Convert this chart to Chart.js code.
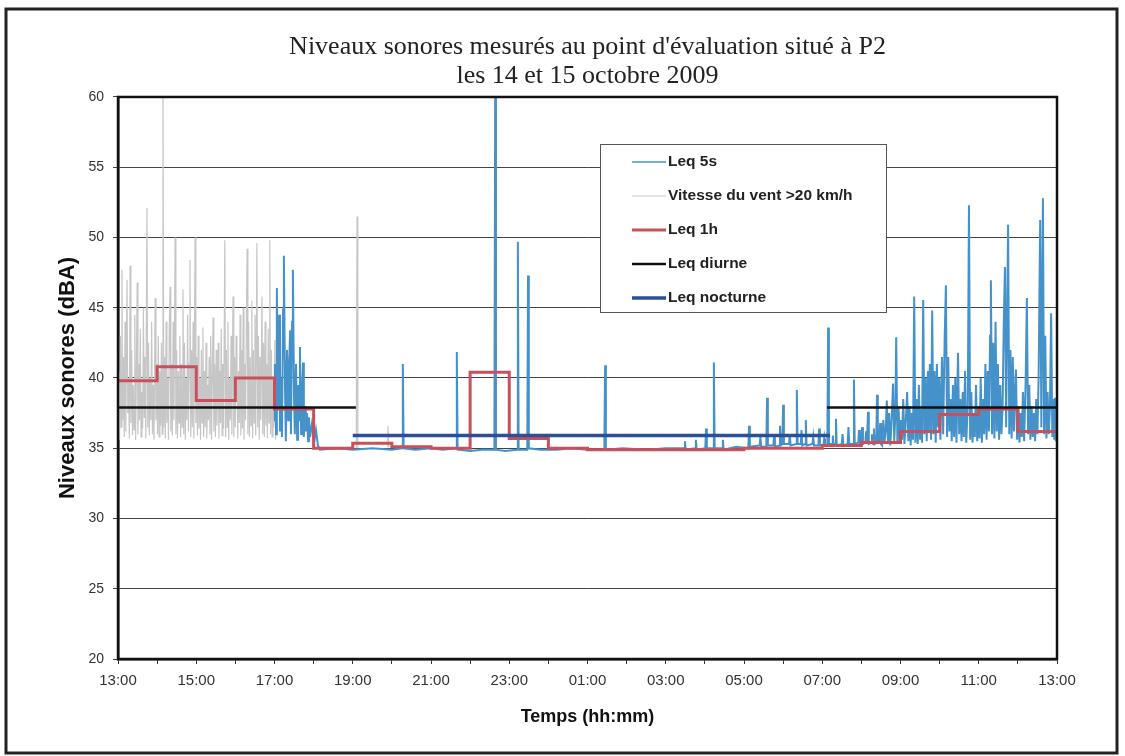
<!DOCTYPE html>
<html lang="fr">
<head>
<meta charset="utf-8">
<title>Niveaux sonores P2</title>
<script src="https://cdn.jsdelivr.net/npm/chart.js@4.4.1/dist/chart.umd.min.js"></script>
<style>
  html, body { margin: 0; padding: 0; background: #fff; }
  #wrap { width: 1125px; height: 756px; }
</style>
</head>
<body>
<div id="wrap"><canvas id="noiseChart" width="1125" height="756"></canvas></div>
<script>
const chartTitle = ["Niveaux sonores mesurés au point d'évaluation situé à P2", 'les 14 et 15 octobre 2009'];
const xTickLabels = ['13:00', '15:00', '17:00', '19:00', '21:00', '23:00', '01:00', '03:00', '05:00', '07:00', '09:00', '11:00', '13:00'];
const yTicks = [20, 25, 30, 35, 40, 45, 50, 55, 60];

// time = hours since 13:00 on 14 Oct, level = dBA
const leq1hHour = [0, 1, 2, 3, 4, 5, 6, 7, 8, 9, 10, 11, 12, 13, 14, 15, 16, 17, 18, 19, 20, 21, 22, 23, 24];
const leq1hLevel = [39.8, 40.8, 38.4, 40.0, 37.8, 35.0, 35.35, 35.1, 35.0, 40.4, 35.7, 35.0, 34.9, 34.9, 34.9, 34.9, 35.0, 35.0, 35.2, 35.4, 36.2, 37.4, 37.8, 36.2, 36.2];

const diurneTime = [0, 6.08, 6.08, 18.12, 24];
const diurneLevel = [37.9, 37.9, null, 37.9, 37.9];
const nocturneTime = [6.0, 18.2];
const nocturneLevel = [35.9, 35.9];

// wind > 20 km/h periods [time, level]
const windSamples = [
  [0.00, 36.0], [0.02, 40.5], [0.04, 35.6], [0.06, 43.0], [0.08, 36.5], [0.10, 47.7], [0.12, 37.0], [0.14, 41.5],
  [0.16, 35.8], [0.18, 44.0], [0.20, 36.2], [0.23, 47.0], [0.25, 37.5], [0.27, 40.0], [0.29, 35.7], [0.31, 48.0],
  [0.33, 36.8], [0.35, 42.0], [0.37, 35.9], [0.39, 39.5], [0.41, 36.3], [0.43, 44.5], [0.45, 35.6], [0.47, 40.5],
  [0.49, 46.8], [0.51, 36.0], [0.53, 41.0], [0.55, 37.0], [0.57, 43.5], [0.59, 35.8], [0.61, 39.0], [0.63, 36.4],
  [0.65, 45.0], [0.67, 37.2], [0.69, 41.5], [0.71, 35.7], [0.74, 52.1], [0.76, 36.5], [0.78, 42.5], [0.80, 35.9],
  [0.82, 40.0], [0.84, 37.0], [0.86, 44.0], [0.88, 36.0], [0.90, 39.5], [0.92, 35.6], [0.95, 45.7], [0.97, 37.0],
  [0.99, 41.0], [1.01, 36.0], [1.03, 43.0], [1.05, 35.8], [1.07, 40.5], [1.09, 36.6], [1.11, 42.5], [1.13, 36.0],
  [1.15, 60.0], [1.17, 36.5], [1.19, 41.5], [1.21, 35.7], [1.23, 44.0], [1.25, 36.8], [1.27, 40.0], [1.29, 35.6],
  [1.31, 43.5], [1.33, 46.5], [1.35, 36.2], [1.37, 41.0], [1.39, 35.9], [1.41, 44.0], [1.43, 37.0], [1.46, 50.0],
  [1.48, 36.0], [1.50, 42.0], [1.52, 35.7], [1.54, 40.5], [1.56, 36.8], [1.58, 43.0], [1.60, 35.8], [1.62, 41.0],
  [1.64, 36.5], [1.66, 46.3], [1.68, 36.0], [1.70, 42.5], [1.72, 35.6], [1.74, 40.0], [1.76, 37.0], [1.78, 44.5],
  [1.80, 36.2], [1.82, 41.0], [1.84, 48.4], [1.86, 35.8], [1.88, 42.0], [1.90, 36.5], [1.92, 44.0], [1.94, 35.7],
  [1.97, 50.0], [1.99, 36.8], [2.01, 41.5], [2.03, 35.9], [2.05, 43.0], [2.07, 36.4], [2.09, 40.0], [2.11, 35.6],
  [2.13, 42.0], [2.15, 36.8], [2.17, 43.6], [2.19, 35.8], [2.21, 40.5], [2.23, 36.5], [2.25, 42.5], [2.27, 35.7],
  [2.29, 39.5], [2.31, 37.0], [2.33, 41.5], [2.35, 36.0], [2.37, 43.0], [2.39, 35.6], [2.41, 40.0], [2.43, 44.3],
  [2.45, 36.2], [2.47, 41.0], [2.49, 35.8], [2.51, 42.0], [2.53, 36.6], [2.56, 42.5], [2.58, 35.7], [2.60, 40.5],
  [2.62, 36.8], [2.64, 43.5], [2.66, 35.9], [2.68, 41.0], [2.70, 36.4], [2.73, 49.8], [2.75, 35.8], [2.77, 42.0],
  [2.79, 36.5], [2.81, 44.0], [2.83, 35.6], [2.85, 40.0], [2.87, 37.0], [2.89, 43.0], [2.91, 36.0], [2.94, 45.8],
  [2.96, 35.8], [2.98, 41.5], [3.00, 36.5], [3.02, 43.0], [3.04, 41.3], [3.06, 35.7], [3.08, 40.5], [3.10, 36.8],
  [3.12, 44.5], [3.14, 35.9], [3.16, 42.0], [3.18, 36.4], [3.20, 45.0], [3.22, 35.6], [3.24, 41.0], [3.26, 37.0],
  [3.28, 43.5], [3.30, 49.2], [3.32, 36.0], [3.34, 44.0], [3.36, 35.8], [3.38, 41.5], [3.40, 36.6], [3.42, 45.5],
  [3.44, 35.7], [3.46, 42.0], [3.48, 36.8], [3.50, 44.5], [3.52, 35.9], [3.55, 49.6], [3.57, 36.5], [3.59, 43.0],
  [3.61, 35.6], [3.63, 41.5], [3.65, 37.0], [3.68, 45.8], [3.70, 36.0], [3.72, 42.5], [3.74, 35.8], [3.76, 44.0],
  [3.78, 36.6], [3.80, 41.0], [3.82, 35.7], [3.84, 43.5], [3.86, 36.8], [3.88, 49.8], [3.90, 36.0], [3.92, 42.0],
  [3.94, 35.8], [3.96, 40.0], [3.98, 36.5], [4.01, 42.7], [4.03, 35.6], [4.05, null],
  [6.09, 35.0], [6.11, 51.5], [6.13, 35.0], [6.15, null],
  [6.88, 35.1], [6.90, 36.6], [6.92, 35.1]
];

// Leq 5s [time, level]
const leq5sSamples = [
  [3.99, 37.0], [4.01, 41.0], [4.04, 36.0], [4.06, 46.4], [4.09, 38.0], [4.12, 44.5], [4.14, 36.2], [4.17, 40.0],
  [4.19, 35.8], [4.22, 45.0], [4.24, 48.7], [4.27, 39.0], [4.29, 35.5], [4.32, 42.0], [4.35, 37.0], [4.37, 40.5],
  [4.40, 43.4], [4.42, 36.0], [4.45, 44.0], [4.47, 47.7], [4.50, 38.5], [4.52, 36.0], [4.55, 41.0], [4.58, 35.6],
  [4.60, 39.5], [4.63, 37.0], [4.65, 42.2], [4.68, 36.0], [4.70, 38.5], [4.73, 41.1], [4.75, 35.8], [4.78, 38.0],
  [4.80, 36.2], [4.83, 37.5], [4.86, 35.5], [4.88, 37.2], [4.91, 35.8], [4.96, 36.8], [5.01, 35.4], [5.06, 36.3],
  [5.11, 35.2], [5.16, 34.9], [5.60, 35.0], [6.00, 34.9], [6.50, 35.0], [7.00, 34.9],
  [7.26, 35.0], [7.28, 41.0], [7.30, 35.0], [7.60, 34.9], [8.00, 35.0], [8.30, 34.9],
  [8.64, 35.0], [8.66, 41.85], [8.68, 34.9], [9.00, 34.8], [9.30, 34.9],
  [9.62, 34.9], [9.64, 60.0], [9.66, 34.9], [9.90, 34.8],
  [10.20, 34.9], [10.22, 49.7], [10.24, 34.9], [10.46, 34.9], [10.48, 47.3], [10.50, 35.0],
  [10.80, 34.9], [11.20, 34.9], [11.60, 35.0], [12.00, 34.9],
  [12.43, 34.9], [12.45, 40.9], [12.47, 34.9], [12.90, 35.0], [13.50, 34.9], [14.00, 35.0],
  [14.47, 35.0], [14.49, 35.5], [14.51, 34.9], [14.75, 35.0], [14.77, 35.6], [14.79, 34.9],
  [15.01, 35.0], [15.03, 36.4], [15.05, 35.0], [15.21, 35.0], [15.23, 41.1], [15.25, 35.0],
  [15.44, 35.0], [15.46, 35.6], [15.48, 34.9], [15.80, 35.1],
  [16.11, 35.0], [16.13, 36.6], [16.15, 35.1], [16.40, 35.2], [16.42, 35.8], [16.44, 35.1],
  [16.57, 35.1], [16.59, 38.6], [16.61, 35.2], [16.75, 35.2], [16.77, 35.9], [16.79, 35.1],
  [16.90, 35.2], [16.92, 36.6], [16.94, 35.2], [16.98, 35.3], [17.00, 38.1], [17.02, 35.3],
  [17.15, 35.3], [17.17, 36.0], [17.19, 35.2], [17.33, 35.3], [17.35, 39.15], [17.37, 35.3],
  [17.45, 35.3], [17.47, 36.3], [17.49, 35.2], [17.56, 35.3], [17.58, 37.0], [17.60, 35.2],
  [17.75, 35.3], [17.77, 35.8], [17.79, 35.2], [17.90, 35.2], [17.92, 36.4], [17.94, 35.2],
  [18.03, 35.2], [18.05, 35.7], [18.07, 35.2], [18.13, 35.2], [18.15, 43.6], [18.17, 35.3],
  [18.25, 35.3], [18.27, 35.9], [18.29, 35.2], [18.33, 35.3], [18.35, 37.1], [18.37, 35.2],
  [18.50, 35.3], [18.52, 36.0], [18.54, 35.2], [18.65, 35.3], [18.67, 36.5], [18.69, 35.3],
  [18.79, 35.3], [18.81, 39.9], [18.83, 35.3], [18.92, 35.4], [18.94, 36.3], [18.96, 35.3],
  [19.00, 35.5], [19.02, 36.5], [19.04, 35.3], [19.10, 35.4], [19.12, 36.2], [19.14, 35.3],
  [19.17, 37.6], [19.19, 35.3], [19.25, 35.4], [19.27, 36.0], [19.30, 35.3], [19.32, 36.4],
  [19.34, 35.3], [19.38, 35.4], [19.40, 38.8], [19.42, 35.4], [19.46, 35.5], [19.48, 36.8],
  [19.50, 35.3], [19.53, 35.2], [19.56, 37.0],
  [19.59, 35.4], [19.62, 36.2], [19.65, 38.4], [19.68, 35.3], [19.71, 37.5], [19.74, 35.2],
  [19.77, 36.8], [19.81, 39.6], [19.84, 35.5], [19.87, 37.5], [19.89, 42.9], [19.92, 35.4],
  [19.95, 38.0], [19.98, 35.3], [20.01, 37.0], [20.04, 35.6], [20.07, 38.5], [20.10, 35.3],
  [20.14, 37.2], [20.17, 39.0], [20.20, 35.5], [20.23, 38.0], [20.26, 35.2], [20.29, 37.5],
  [20.32, 35.6], [20.35, 45.8], [20.38, 35.4], [20.41, 38.5], [20.44, 35.3], [20.47, 39.5],
  [20.50, 35.6], [20.53, 37.8], [20.55, 35.4], [20.58, 45.55], [20.61, 36.0], [20.64, 40.0],
  [20.67, 35.5], [20.70, 40.5], [20.72, 36.2], [20.75, 41.0], [20.78, 35.6], [20.81, 44.8],
  [20.84, 36.0], [20.87, 40.5], [20.90, 35.4], [20.93, 41.0], [20.96, 36.5], [20.99, 40.0],
  [21.02, 35.6], [21.06, 41.5], [21.09, 36.0], [21.13, 43.0], [21.16, 46.6], [21.19, 35.8],
  [21.22, 41.5], [21.25, 36.2], [21.28, 38.5], [21.31, 35.5], [21.34, 39.5], [21.37, 35.8],
  [21.40, 40.0], [21.43, 35.4], [21.47, 41.8], [21.50, 36.0], [21.53, 38.5], [21.56, 35.5],
  [21.59, 39.0], [21.62, 35.8], [21.65, 40.5], [21.68, 35.4], [21.72, 38.0], [21.75, 52.3],
  [21.78, 35.6], [21.81, 39.0], [21.84, 35.4], [21.87, 37.5], [21.90, 35.8], [21.93, 39.5],
  [21.96, 35.5], [21.99, 38.0], [22.02, 35.7], [22.05, 40.0], [22.08, 35.4], [22.11, 38.5],
  [22.14, 36.0], [22.17, 41.0], [22.20, 35.6], [22.23, 40.5], [22.26, 36.2], [22.29, 43.0],
  [22.31, 46.95], [22.34, 36.0], [22.37, 42.5], [22.40, 35.7], [22.43, 44.0], [22.46, 36.2],
  [22.49, 41.0], [22.52, 35.6], [22.55, 39.5], [22.58, 36.0], [22.61, 38.0], [22.64, 44.0],
  [22.67, 47.9], [22.70, 36.5], [22.73, 45.5], [22.75, 50.9], [22.78, 36.0], [22.81, 42.0],
  [22.84, 35.7], [22.87, 41.5], [22.90, 36.2], [22.92, 38.5], [22.95, 40.6], [22.98, 35.6],
  [23.01, 38.0], [23.04, 35.4], [23.07, 37.5], [23.10, 35.8], [23.13, 39.0], [23.16, 35.5],
  [23.20, 40.0], [23.23, 45.7], [23.26, 36.0], [23.29, 39.5], [23.32, 35.6], [23.35, 38.0],
  [23.38, 35.8], [23.41, 37.5], [23.44, 35.5], [23.47, 38.5], [23.50, 36.0], [23.53, 40.0],
  [23.57, 51.25], [23.60, 36.5], [23.64, 52.8], [23.67, 36.0], [23.70, 43.0], [23.73, 35.7],
  [23.76, 39.0], [23.79, 36.0], [23.82, 38.0], [23.85, 44.6], [23.88, 35.8], [23.91, 38.5],
  [23.93, 35.6], [23.95, 38.6], [23.97, 35.5], [24.00, 37.0]
];

const fromPairs = list => list.map(p => ({ x: p[0], y: p[1] }));
const fromArrays = (t, v) => t.map((x, i) => ({ x: x, y: v[i] }));

// white page + outer frame
const pageFrame = {
  id: 'pageFrame',
  beforeDraw(chart) {
    const ctx = chart.ctx;
    ctx.save();
    ctx.fillStyle = '#fff';
    ctx.fillRect(0, 0, chart.width, chart.height);
    ctx.strokeStyle = '#222';
    ctx.lineWidth = 3;
    ctx.strokeRect(6, 9, 1111, 744);
    ctx.restore();
  },
  afterDatasetsDraw(chart) {
    const a = chart.chartArea;
    const ctx = chart.ctx;
    ctx.save();
    ctx.strokeStyle = '#111';
    ctx.lineWidth = 2.5;
    ctx.strokeRect(a.left, a.top, a.right - a.left, a.bottom - a.top);
    ctx.restore();
  }
};

// legend box inside the plot, like the original
const legendBox = {
  id: 'legendBox',
  afterDraw(chart) {
    const ctx = chart.ctx;
    const x0 = 600, y0 = 144, w = 286, h = 168;
    ctx.save();
    ctx.fillStyle = '#fff';
    ctx.fillRect(x0, y0, w, h);
    ctx.strokeStyle = '#555';
    ctx.lineWidth = 1;
    ctx.strokeRect(x0 + 0.5, y0 + 0.5, w, h);
    ctx.font = 'bold 15.5px "Liberation Sans", Arial, sans-serif';
    ctx.textBaseline = 'middle';
    chart.data.datasets.forEach((ds, i) => {
      const y = y0 + 18 + i * 34;
      ctx.strokeStyle = ds.borderColor;
      ctx.lineWidth = ds.legendWidth || ds.borderWidth;
      ctx.beginPath();
      ctx.moveTo(x0 + 32, y);
      ctx.lineTo(x0 + 66, y);
      ctx.stroke();
      ctx.fillStyle = '#222';
      ctx.fillText(ds.label, x0 + 68, y);
    });
    ctx.restore();
  }
};

const ctx = document.getElementById('noiseChart').getContext('2d');
const chart = new Chart(ctx, {
  type: 'line',
  data: {
    datasets: [{
      label: 'Leq 5s',
      data: fromPairs(leq5sSamples),
      borderColor: '#4592cb',
      borderWidth: 2,
      legendWidth: 1.5,
      order: 3
    }, {
      label: 'Vitesse du vent >20 km/h',
      data: fromPairs(windSamples),
      borderColor: '#c6c6c6',
      borderWidth: 1.2,
      legendWidth: 1,
      order: 4
    }, {
      label: 'Leq 1h',
      data: fromArrays(leq1hHour, leq1hLevel),
      borderColor: '#c9505a',
      borderWidth: 3,
      stepped: true,
      order: 2
    }, {
      label: 'Leq diurne',
      data: fromArrays(diurneTime, diurneLevel),
      borderColor: '#111111',
      borderWidth: 2.5,
      order: 1
    }, {
      label: 'Leq nocturne',
      data: fromArrays(nocturneTime, nocturneLevel),
      borderColor: '#2c4f98',
      borderWidth: 3.5,
      order: 0
    }]
  },
  options: {
    responsive: false,
    animation: false,
    events: [],
    elements: { point: { radius: 0 }, line: { tension: 0 } },
    layout: { padding: { left: 0, right: 68, top: 0, bottom: 0 } },
    plugins: {
      legend: { display: false },
      tooltip: { enabled: false },
      title: {
        display: true,
        text: chartTitle,
        fullSize: false,
        color: '#222',
        font: { family: '"Liberation Serif", "Times New Roman", serif', size: 26, weight: 'normal', lineHeight: 1.115 },
        padding: { top: 33, bottom: 6 }
      }
    },
    scales: {
      x: {
        type: 'linear',
        min: 0,
        max: 24,
        afterBuildTicks: scale => {
          const ticks = [];
          for (let hr = 0; hr <= 24; hr++) ticks.push({ value: hr });
          scale.ticks = ticks;
        },
        afterFit: scale => { scale.height = 97; },
        ticks: {
          autoSkip: false,
          maxRotation: 0,
          padding: 8,
          color: '#333',
          font: { family: '"Liberation Sans", Arial, sans-serif', size: 15 },
          callback: v => (v % 2 === 0 ? xTickLabels[v / 2] : '')
        },
        grid: { drawOnChartArea: false, drawTicks: true, tickLength: 5, color: '#333' },
        border: { display: true, color: '#111', width: 2.5 },
        title: {
          display: true,
          text: 'Temps (hh:mm)',
          color: '#111',
          font: { family: '"Liberation Sans", Arial, sans-serif', size: 18, weight: 'bold' },
          padding: { top: 0, bottom: 28 }
        }
      },
      y: {
        min: 20,
        max: 60,
        afterBuildTicks: scale => { scale.ticks = yTicks.map(v => ({ value: v })); },
        afterFit: scale => { scale.width = 118; },
        ticks: {
          padding: 9,
          color: '#333',
          font: { family: '"Liberation Sans", Arial, sans-serif', size: 14 }
        },
        grid: { color: '#444', lineWidth: 1, tickLength: 5 },
        border: { display: true, color: '#111', width: 2.5 },
        title: {
          display: true,
          text: 'Niveaux sonores (dBA)',
          color: '#111',
          font: { family: '"Liberation Sans", Arial, sans-serif', size: 22, weight: 'bold' },
          padding: { top: 55, bottom: 0 }
        }
      }
    }
  },
  plugins: [pageFrame, legendBox]
});
</script>
</body>
</html>
